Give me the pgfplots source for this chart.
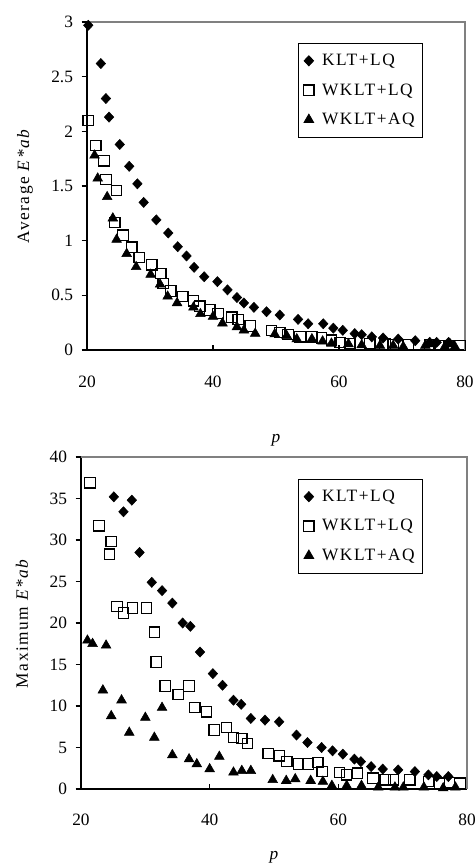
\documentclass[border=0pt]{standalone}
\usepackage{pgfplots}
\pgfplotsset{compat=1.18}
\usepackage{fontspec}
\setmainfont{Liberation Serif}
\newfontfamily\legfont[LetterSpace=9]{Liberation Serif}

\pgfplotsset{
  panel/.style={
    scale only axis,
    axis lines=left,
    axis line style={-, line width=1pt},
    xmin=20, xmax=80,
    xtick={20,40,60,80},
    xtick align=inside,
    ytick align=outside,
    major tick length=4pt,
    tick style={line width=0.8pt, black},
    /pgf/number format/assume math mode=true,
    tick label style={font=\fontsize{13}{15}\selectfont},
    yticklabel style={xshift=-3pt},
    xlabel style={font=\fontsize{13}{15}\selectfont},
    ylabel style={font=\legfont\fontsize{13}{15}\selectfont},
    clip=false,
    legend cell align=left,
    legend style={draw=black, line width=0.6pt, anchor=north west,
      font=\legfont\fontsize{13}{15}\selectfont,
      row sep=8pt, column sep=4pt, inner xsep=4pt, inner ysep=6pt},
  },
  klt/.style={only marks, mark=diamond*, mark size=3.8pt, black,
    mark options={xscale=1.25}},
  wlq/.style={only marks, mark=square, mark size=3.9pt, black,
    mark options={line width=0.9pt}},
  waq/.style={only marks, mark=triangle*, mark size=4.2pt, black},
}

\begin{document}
\begin{tikzpicture}
\useasboundingbox (0,0) rectangle (356.25pt,648pt);

% average
\begin{axis}[panel,
  at={(65.25pt,385.5pt)}, anchor=south west,
  width=283.5pt, height=246pt,
  ymin=0, ymax=3,
  ytick={0,0.5,1,1.5,2,2.5,3},
  xticklabel style={yshift=-16pt},
  xlabel={\textit{p}},
  ylabel={Average \textit{E*ab}},
  xlabel style={at={(axis description cs:0.5,-0.274)}, anchor=center},
  ylabel style={at={(axis description cs:-0.164,0.5)}, anchor=center},
  legend style={at={(0.558,0.936)}},
]
\draw[gray, line width=0.8pt] (rel axis cs:0,1) -- (rel axis cs:1,1) -- (rel axis cs:1,0);
\addplot[klt] coordinates {
(20.2,2.97) (22.2,2.62) (23.0,2.30) (23.5,2.13) (25.2,1.88) (26.7,1.68)
(28.0,1.52) (29.0,1.35) (31.0,1.19) (32.9,1.07) (34.4,0.945) (35.8,0.86)
(37.0,0.756) (38.6,0.67) (40.7,0.625) (42.3,0.55) (43.8,0.48) (44.9,0.43)
(46.5,0.39) (48.5,0.35) (50.6,0.32) (53.5,0.28) (55.1,0.24) (57.5,0.24)
(59.1,0.20) (60.6,0.18) (62.5,0.15) (63.6,0.14) (65.2,0.12) (67.0,0.11)
(69.4,0.10) (72.1,0.085) (74.4,0.07) (75.5,0.07) (77.4,0.07)
};
\addplot[wlq] coordinates {
(20.2,2.10) (21.4,1.87) (22.7,1.73) (23.0,1.56) (24.7,1.46) (24.4,1.165)
(25.7,1.05) (27.1,0.94) (28.3,0.845) (30.3,0.78) (31.7,0.70) (32.1,0.61)
(33.3,0.54) (35.2,0.49) (36.9,0.45) (37.9,0.40) (39.5,0.366) (40.8,0.335)
(43.0,0.30) (44.0,0.28) (45.9,0.22) (49.3,0.18) (50.6,0.16) (51.9,0.14)
(53.8,0.12) (55.7,0.12) (57.2,0.11) (58.8,0.09) (60.2,0.07) (61.7,0.06)
(64.9,0.06) (67.3,0.055) (68.6,0.045) (71.0,0.045) (74.4,0.045) (75.8,0.04)
(77.4,0.04) (79.2,0.04)
};
\addplot[waq] coordinates {
(21.2,1.78) (21.7,1.57) (23.2,1.40) (24.1,1.205) (24.7,1.01) (26.3,0.88)
(27.8,0.76) (30.1,0.69) (31.6,0.60) (32.8,0.49) (34.3,0.43) (36.9,0.39)
(38.0,0.33) (40.0,0.305) (41.5,0.245) (43.8,0.21) (44.9,0.18) (46.7,0.15)
(49.8,0.145) (51.7,0.13) (53.3,0.10) (55.7,0.10) (57.4,0.08) (58.8,0.06)
(61.5,0.055) (63.6,0.045) (66.5,0.04) (68.6,0.04) (70.2,0.03) (73.7,0.04)
(74.4,0.055) (76.8,0.03) (77.6,0.055) (78.4,0.03)
};
\legend{KLT+LQ, WKLT+LQ, WKLT+AQ}
\end{axis}

% maximum
\begin{axis}[panel,
  at={(60.75pt,56.25pt)}, anchor=south west,
  width=289.5pt, height=249pt,
  ymin=0, ymax=40,
  ytick={0,5,...,40},
  xticklabel style={yshift=-15pt},
  xlabel={\textit{p}},
  ylabel={Maximum \textit{E*ab}},
  xlabel style={at={(axis description cs:0.5,-0.205)}, anchor=center},
  ylabel style={at={(axis description cs:-0.153,0.5)}, anchor=center},
  legend style={at={(0.562,0.934)}},
]
\draw[gray, line width=0.8pt] (rel axis cs:0,1) -- (rel axis cs:1,1) -- (rel axis cs:1,0);
\addplot[klt] coordinates {
(25.1,35.2) (26.6,33.4) (27.9,34.8) (29.1,28.5) (31.0,24.9) (32.6,23.9)
(34.2,22.4) (35.8,20.0) (37.0,19.6) (38.5,16.5) (40.5,13.9) (42.0,12.5)
(43.7,10.7) (44.9,10.2) (46.4,8.5) (48.6,8.3) (50.8,8.1) (53.5,6.5)
(55.2,5.6) (57.4,5.0) (59.1,4.6) (60.7,4.2) (62.5,3.6) (63.5,3.3)
(65.1,2.7) (66.9,2.4) (69.3,2.3) (71.9,2.1) (74.0,1.7) (75.3,1.5) (77.1,1.5)
};
\addplot[wlq] coordinates {
(21.4,36.9) (22.8,31.7) (24.7,29.8) (24.4,28.3) (25.6,22.0) (26.6,21.2)
(28.0,21.8) (30.2,21.8) (31.4,18.9) (31.7,15.3) (33.1,12.4) (35.1,11.4)
(36.8,12.4) (37.7,9.8) (39.5,9.3) (40.7,7.1) (42.6,7.4) (43.7,6.2)
(45.0,6.1) (45.9,5.5) (49.1,4.3) (50.8,4.0) (52.0,3.3) (53.8,3.0)
(55.3,3.0) (56.8,3.2) (57.5,2.1) (60.2,2.0) (61.3,1.7) (63.0,1.9)
(65.4,1.3) (67.3,1.1) (68.6,1.1) (71.1,1.1) (74.0,0.9) (75.7,0.7)
(77.3,0.8) (78.9,0.7)
};
\addplot[waq] coordinates {
(21.0,17.9) (21.8,17.5) (23.9,17.3) (23.4,11.9) (24.7,8.8) (26.3,10.7)
(27.5,6.8) (30.0,8.6) (31.4,6.2) (32.6,9.8) (34.2,4.1) (36.8,3.6)
(38.0,3.0) (40.0,2.4) (41.5,3.9) (43.7,2.0) (45.0,2.2) (46.4,2.2)
(49.8,1.1) (51.9,1.0) (53.3,1.2) (55.7,1.0) (57.6,0.9) (59.0,0.4)
(61.3,0.4) (63.6,0.4) (66.2,0.2) (68.8,0.2) (70.1,0.2) (73.3,0.2)
(76.3,0.1) (78.2,0.2)
};
\legend{KLT+LQ, WKLT+LQ, WKLT+AQ}
\end{axis}
\end{tikzpicture}
\end{document}
